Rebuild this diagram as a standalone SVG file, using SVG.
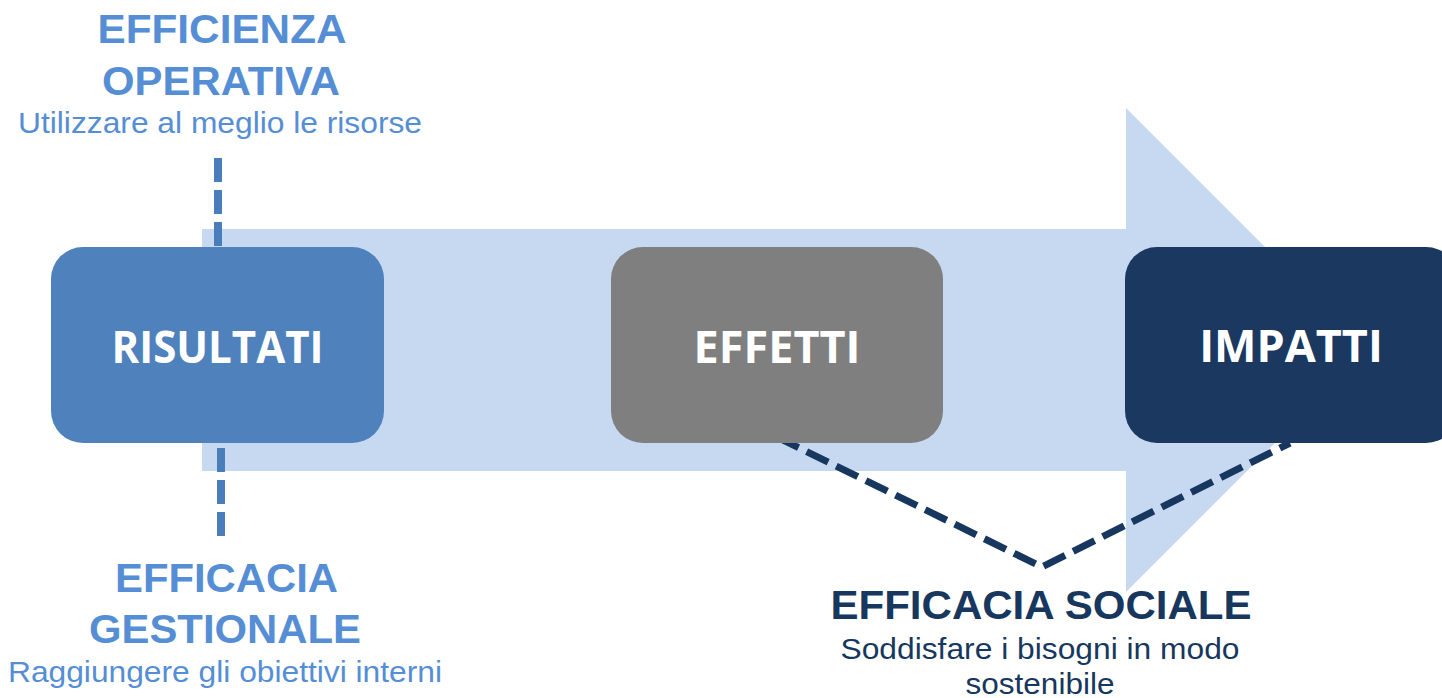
<svg xmlns="http://www.w3.org/2000/svg" width="1442" height="698" viewBox="0 0 1442 698">
<style>
.box-label{font-family:"Open Sans","Liberation Sans",sans-serif;font-weight:700;font-size:45px;fill:#ffffff;text-anchor:middle}
.head{font-family:"Liberation Sans",Arial,sans-serif;font-weight:700;font-size:41px;text-anchor:middle}
.sub{font-family:"Liberation Sans",Arial,sans-serif;font-size:29px;text-anchor:middle}
.blue{fill:#558ED5}
.navy{fill:#17375E}
.dash-blue{stroke:#4A7EBB;stroke-width:8;fill:none;stroke-dasharray:24 8}
.dash-navy{stroke:#17375E;stroke-width:7;fill:none;stroke-dasharray:24 9}
</style>
<rect width="1442" height="698" fill="#ffffff"/>
<g id="arrow">
<polygon points="202,229 1126,229 1126,108 1368,350 1126,592 1126,471 202,471" fill="#C6D9F1"/>
</g>
<g id="connectors">
<line class="dash-blue" x1="218" y1="158" x2="218" y2="247"/>
<line class="dash-blue" x1="221" y1="448" x2="221" y2="537"/>
<polyline class="dash-navy" points="777,437 1042,567 1290,443"/>
</g>
<g id="node-risultati">
<rect x="51" y="247" width="333" height="196" rx="32" fill="#4F81BD"/>
<text class="box-label" x="217.5" y="363" textLength="212" lengthAdjust="spacingAndGlyphs">RISULTATI</text>
</g>
<g id="node-effetti">
<rect x="611" y="247" width="332" height="196" rx="32" fill="#7F7F7F"/>
<text class="box-label" x="777" y="363">EFFETTI</text>
</g>
<g id="node-impatti">
<rect x="1125" y="247" width="333" height="196" rx="32" fill="#1A3860"/>
<text class="box-label" x="1291" y="362">IMPATTI</text>
</g>
<g id="label-efficienza">
<text class="head blue" x="222" y="43" textLength="249" lengthAdjust="spacingAndGlyphs">EFFICIENZA</text>
<text class="head blue" x="221" y="95" textLength="238" lengthAdjust="spacingAndGlyphs">OPERATIVA</text>
<text class="sub blue" x="220" y="133" textLength="404" lengthAdjust="spacingAndGlyphs">Utilizzare al meglio le risorse</text>
</g>
<g id="label-efficacia-gestionale">
<text class="head blue" x="226.5" y="592" textLength="223" lengthAdjust="spacingAndGlyphs">EFFICACIA</text>
<text class="head blue" x="225" y="643" textLength="272" lengthAdjust="spacingAndGlyphs">GESTIONALE</text>
<text class="sub blue" x="225" y="682" textLength="434" lengthAdjust="spacingAndGlyphs">Raggiungere gli obiettivi interni</text>
</g>
<g id="label-efficacia-sociale">
<text class="head navy" x="1041" y="619" textLength="421" lengthAdjust="spacingAndGlyphs">EFFICACIA SOCIALE</text>
<text class="sub navy" x="1040" y="659" textLength="399" lengthAdjust="spacingAndGlyphs">Soddisfare i bisogni in modo</text>
<text class="sub navy" x="1040" y="694" textLength="149" lengthAdjust="spacingAndGlyphs">sostenibile</text>
</g>
</svg>
